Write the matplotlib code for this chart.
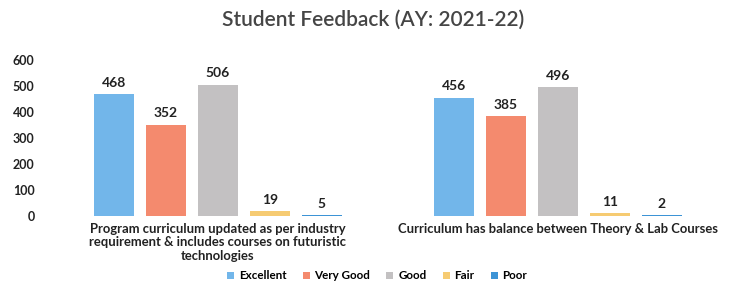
import matplotlib.pyplot as plt
import numpy as np

plt.rcParams['font.family'] = ['Lato', 'DejaVu Sans']

categories = ['Program curriculum updated as per industry\nrequirement & includes courses on futuristic\ntechnologies',
              'Curriculum has balance between Theory & Lab Courses']
ratings = ['Excellent', 'Very Good', 'Good', 'Fair', 'Poor']
excellent = [468, 456]
very_good = [352, 385]
good = [506, 496]
fair = [19, 11]
poor = [5, 2]
yticks = [0, 100, 200, 300, 400, 500, 600]

series = [excellent, very_good, good, fair, poor]
colors = ['#72b6ea', '#f48a6e', '#c3c1c2', '#f6cb72', '#3d94d6']

fig = plt.figure(figsize=(7.35, 2.89), dpi=100)
ax = fig.add_axes([0.065, 0.2526, 0.925, 0.539])

x = np.arange(len(categories))
width = 0.118
pitch = 0.153
for i, (vals, col, name) in enumerate(zip(series, colors, ratings)):
    pos = x + (i - 2) * pitch
    ax.bar(pos, vals, width=width, color=col, label=name)
    for p, v in zip(pos, vals):
        ax.text(p, v + 20, str(v), ha='center', va='bottom',
                fontsize=10, fontweight='bold', color='#222222')

ax.set_xlim(-0.5, 1.5)
ax.set_ylim(0, 600)
ax.set_yticks(yticks)
ax.set_yticklabels([str(t) for t in yticks], fontsize=9, fontweight='bold', color='#222222')
ax.tick_params(axis='y', length=0, pad=9.5)
ax.tick_params(axis='x', length=0, pad=5)
ax.set_xticks(x)
ax.set_xticklabels(categories, fontsize=9.4, fontweight='bold', color='#222222', linespacing=1.15)
for s in ax.spines.values():
    s.set_visible(False)

fig.suptitle('Student Feedback (AY: 2021-22)', x=0.508, y=0.965, fontsize=15,
             fontweight='semibold', color='#454545')

fig.legend(loc='center', bbox_to_anchor=(0.513, 0.045), ncol=5, frameon=False,
           handlelength=0.6, handleheight=0.6, columnspacing=1.4,
           handletextpad=0.4, prop={'weight': 'bold', 'size': 8.4})

plt.savefig('out.png', dpi=100)
